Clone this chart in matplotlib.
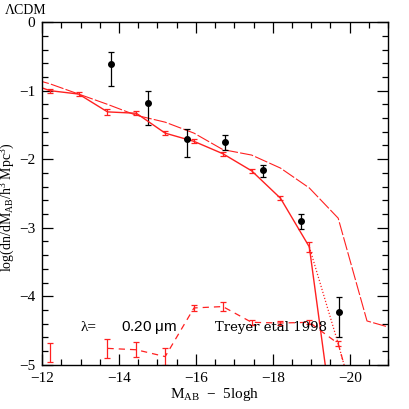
import numpy as np
import matplotlib
matplotlib.use("Agg")
import matplotlib.pyplot as plt

plt.rcParams['font.family'] = ['Liberation Serif', 'DejaVu Serif']
plt.rcParams['mathtext.fontset'] = 'custom'
plt.rcParams['mathtext.rm'] = 'Liberation Serif'
plt.rcParams['mathtext.it'] = 'Liberation Serif:italic'
plt.rcParams['mathtext.default'] = 'regular'

# magnitude bins of the model curves
mag_bins = [-11.45, -12.2, -12.95, -13.7, -14.45, -15.2, -15.95, -16.7,
            -17.45, -18.2, -18.95, -19.7, -20.45, -21.2]

# main model (solid, with error bars)
model_lf = [-0.85, -1.0, -1.05, -1.31, -1.33, -1.62, -1.74, -1.92,
            -2.17, -2.57, -3.28, -6.4, np.nan, np.nan]
model_err = [0, 0.03, 0.03, 0.04, 0.03, 0.03, 0.03, 0.03,
             0.03, 0.03, 0.07, 0, 0, 0]

# dotted variant beyond the bright end
dotted_mag = [-18.95, -19.7, -20.45]
dotted_lf = [-3.28, -4.69, -6.2]

# upper long-dashed model
upper_lf = [-0.78, -0.90, -1.05, -1.2, -1.36, -1.46, -1.62, -1.86,
            -1.94, -2.13, -2.42, -2.86, -4.36, -4.48]

# lower dashed curve with error bars
lower_lf = [np.nan, -4.82, np.nan, -4.76, -4.78, -4.88, -4.17, -4.15,
            -4.38, -4.39, -4.38, -4.69, -6.2, np.nan]
lower_err = [0, 0.14, 0, 0.14, 0.11, 0.12, 0.05, 0.06,
             0.04, 0.03, 0.03, 0.04, 0, 0]

# Treyer et al 1998 data
obs_mag = [-13.79, -14.75, -15.77, -16.75, -17.74, -18.73, -19.71]
obs_lf = [-0.61, -1.18, -1.71, -1.75, -2.16, -2.90, -4.23]
obs_lo = [0.32, 0.32, 0.26, 0.12, 0.10, 0.12, 0.36]
obs_hi = [0.17, 0.17, 0.15, 0.10, 0.07, 0.10, 0.22]

red = '#ff2020'

fig = plt.figure(figsize=(4.09, 4.09), dpi=100)
ax = fig.add_axes([0.103, 0.108, 0.846, 0.838])

ax.errorbar(mag_bins, model_lf, yerr=model_err, color=red, lw=1.0,
            capsize=2.5, elinewidth=0.9, capthick=0.9)
ax.plot(dotted_mag, dotted_lf, color=red, lw=0.9, ls=(0, (1, 1.5)))
ax.plot(mag_bins, upper_lf, color=red, lw=0.8, ls=(0, (12, 2)))
ax.errorbar(mag_bins, lower_lf, yerr=lower_err, color=red, lw=0.9,
            ls=(0, (5, 4)), capsize=2.5, elinewidth=0.9, capthick=0.9)
ax.errorbar(obs_mag, obs_lf, yerr=[obs_lo, obs_hi], fmt='o', color='black',
            ms=4, capsize=2, elinewidth=0.9, capthick=0.9)

ax.set_xlim(-12, -21)
ax.set_ylim(-5, 0)
ax.set_xticks([-12, -14, -16, -18, -20])
ax.set_xticks(np.arange(-12, -21.01, -0.5), minor=True)
ax.set_yticks([-5, -4, -3, -2, -1, 0])
ax.set_yticks(np.arange(-5, 0.01, 0.2), minor=True)
ax.set_xticklabels(['\u221212', '\u221214', '\u221216', '\u221218', '\u221220'])
ax.set_yticklabels(['\u22125', '\u22124', '\u22123', '\u22122', '\u22121', '0'])
ax.tick_params(which='both', direction='in', top=True, right=True,
               labelsize=11, width=0.9)
ax.tick_params(which='major', length=8)
ax.tick_params(which='minor', length=4)
ax.tick_params(axis='x', which='major', pad=5)
ax.tick_params(axis='y', which='major', pad=5)
for s in ax.spines.values():
    s.set_linewidth(1.0)

ax.set_xlabel('M$_{AB}$  \u2212  5logh', fontsize=11, labelpad=1)
ax.set_ylabel('log(dn/dM$_{AB}$/h$^3$ Mpc$^3$)', fontsize=10)
ax.yaxis.set_label_coords(-0.072, 0.46)

ax.text(-13.0, -4.46, '\u03bb=', fontsize=11, va='center')
ax.text(-14.05, -4.46, '0.20 $\\mu$m', fontsize=11, va='center',
        family=['Liberation Sans', 'DejaVu Sans'])
ax.text(-16.5, -4.46, 'Treyer etal 1998', fontsize=9.5, va='center',
        family=['DejaVu Serif'])
fig.text(0.012, 0.975, '\u039bCDM', fontsize=10, va='center')

fig.savefig('out.png', dpi=100)
